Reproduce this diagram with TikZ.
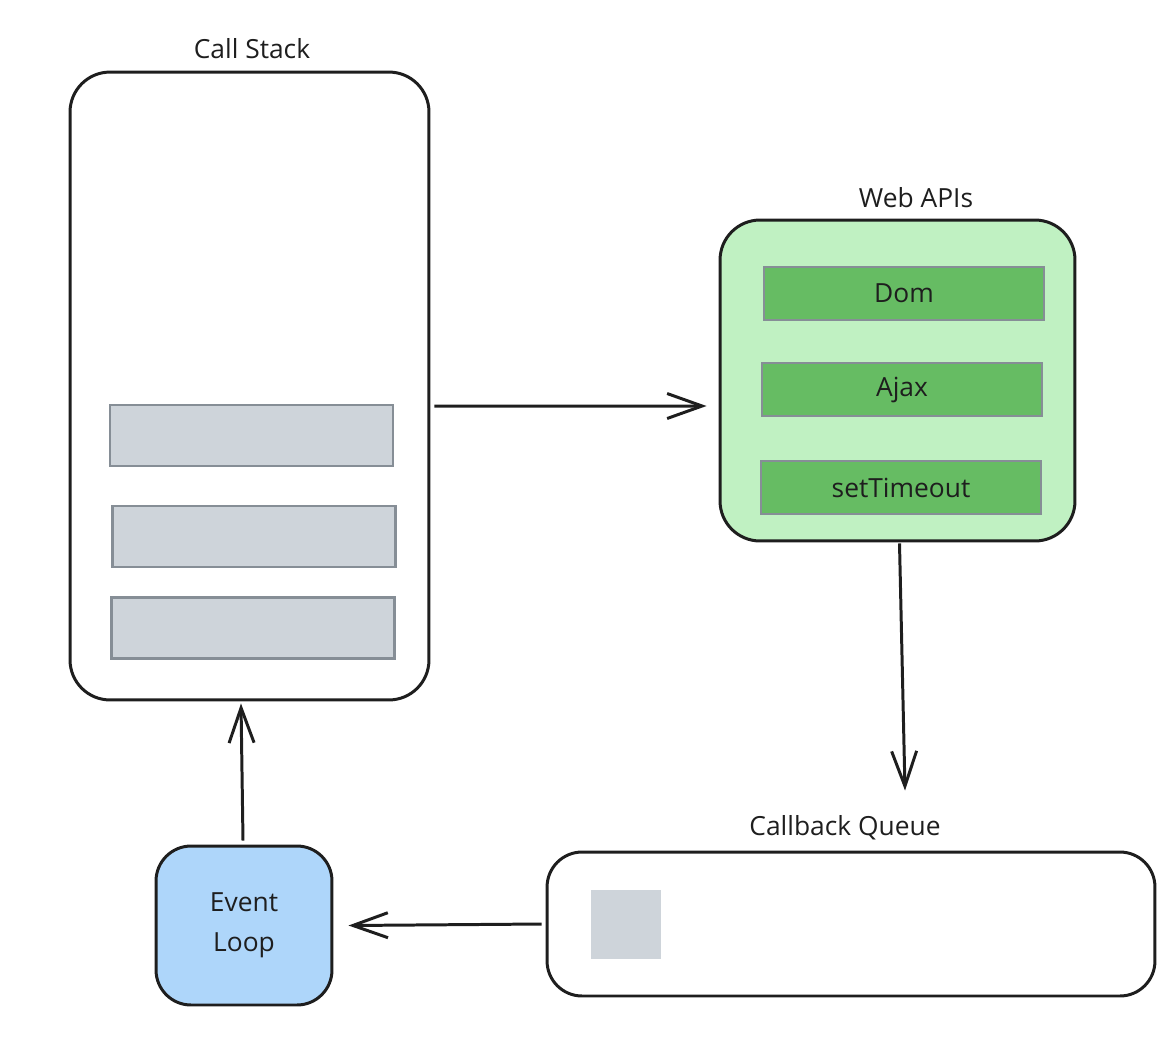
\documentclass[tikz,border=0pt]{standalone}
\usepackage{fontspec}
\setmainfont{Open Sans}
\usetikzlibrary{arrows.meta}
\definecolor{ink}{HTML}{1E1E1E}
\definecolor{grayfill}{HTML}{CED4DA}
\definecolor{graystroke}{HTML}{868E96}
\definecolor{webfill}{HTML}{C0F1C2}
\definecolor{barfill}{HTML}{66BC63}
\definecolor{loopfill}{HTML}{AED6FA}
\begin{document}
\begin{tikzpicture}[x=0.02cm,y=-0.02cm,
  container/.style={draw=ink,line width=1.7pt,rounded corners=0.8cm,inner sep=0pt},
  stackbar/.style={draw=graystroke,fill=grayfill,line width=1.4pt,inner sep=0pt,minimum width=5.66cm,minimum height=1.22cm},
  apibar/.style={draw=graystroke,fill=barfill,line width=1.4pt,inner sep=0pt,minimum width=5.6cm,minimum height=1.06cm,font=\fontsize{15}{18}\selectfont,text=ink},
  title/.style={font=\fontsize{15}{18}\selectfont,text=ink},
  arr/.style={draw=ink,line width=1.7pt,-{Straight Barb[length=0.7cm,width=0.5cm,line width=1.7pt]}}]
\useasboundingbox (0,0) rectangle (1172,1052);
% Call stack
\node[container,minimum width=7.18cm,minimum height=12.56cm] (cs) at (249.5,386) {};
\node[title] (cstitle) at (252,49) {Call Stack};
\node[stackbar] (b1) at (251.5,435.5) {};
\node[stackbar] (b2) at (254,536.5) {};
\node[stackbar] (b3) at (253,628) {};
% Web APIs
\node[container,fill=webfill,minimum width=7.1cm,minimum height=6.42cm] (web) at (897.5,380.5) {};
\node[title] (webtitle) at (916,198) {Web APIs};
\node[apibar] (dom) at (904,293.5) {Dom};
\node[apibar] (ajax) at (902,389.5) {Ajax};
\node[apibar] (timeout) at (901,487.5) {setTimeout};
% Callback queue
\node[container,rounded corners=0.7cm,minimum width=12.16cm,minimum height=2.88cm] (queue) at (851,924) {};
\node[title] (queuetitle) at (845,828) {Callback Queue};
\node[fill=grayfill,inner sep=0pt,minimum width=1.4cm,minimum height=1.38cm] (qitem) at (626,924.5) {};
% Event loop
\node[container,rounded corners=0.7cm,fill=loopfill,minimum width=3.52cm,minimum height=3.18cm,align=center,title] (loop) at (244,925.5) {Event\\[5pt]Loop};
% Arrows
\draw[arr] ([shift={(4,20)}]cs.east) -- ([shift={(-12,25.5)}]web.west);
\draw[arr] ([shift={(2,1)}]web.south) -- ([shift={(7.5,-60)}]queue.north -| web.south);
\draw[arr] ([shift={(-4,0)}]queue.west) -- ([shift={(15,0)}]loop.east);
\draw[arr] ([shift={(-1,-4)}]loop.north) -- ([shift={(-8.5,2)}]cs.south);
\end{tikzpicture}
\end{document}
